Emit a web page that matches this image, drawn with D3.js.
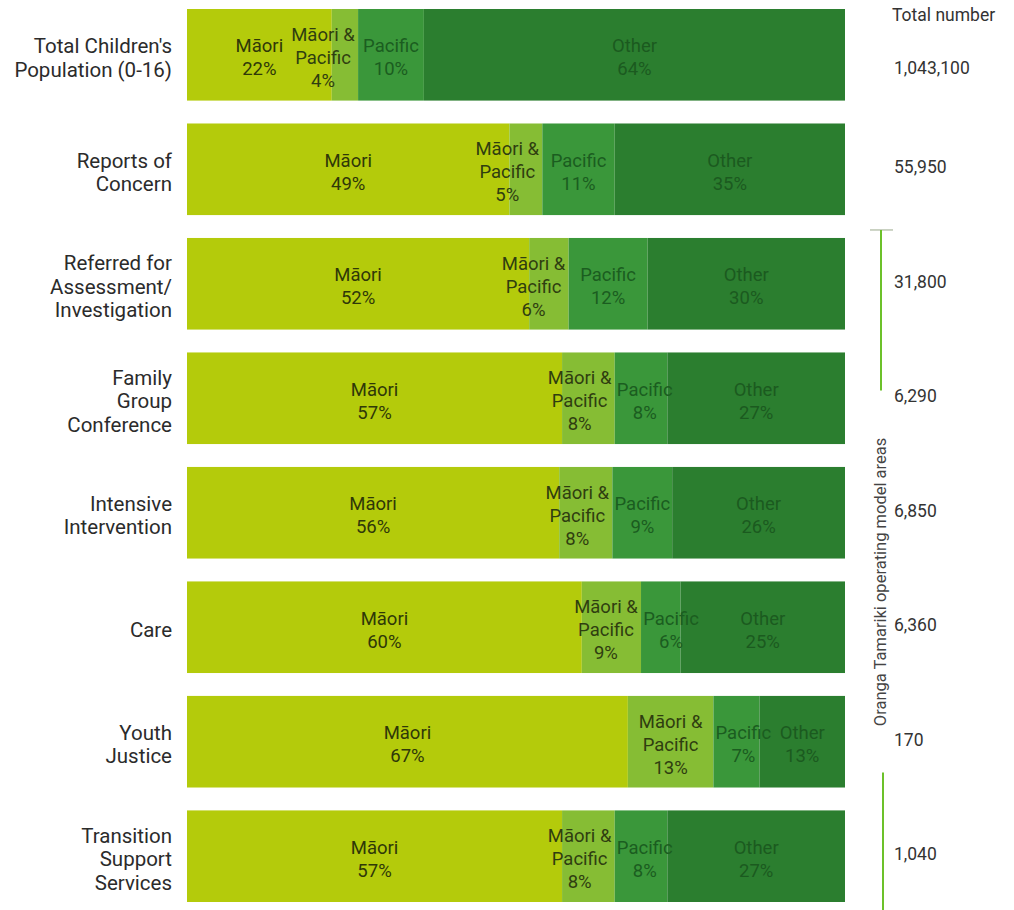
<!DOCTYPE html>
<html>
<head>
<meta charset="utf-8">
<script src="https://cdn.jsdelivr.net/npm/d3@7"></script>
<style>
  body { margin: 0; background: #fff; }
  text { font-family: Roboto, "Noto Sans", sans-serif; }
</style>
</head>
<body>
<div id="chart"></div>
<script>
// rows, top to bottom
var categories = [
  "Total Children's|Population (0-16)",
  "Reports of|Concern",
  "Referred for|Assessment/|Investigation",
  "Family|Group|Conference",
  "Intensive|Intervention",
  "Care",
  "Youth|Justice",
  "Transition|Support|Services"
];

var groups = ["Māori", "Māori & Pacific", "Pacific", "Other"];

var maori        = [22, 49, 52, 57, 56, 60, 67, 57];
var maoriPacific = [4, 5, 6, 8, 8, 9, 13, 8];
var pacific      = [10, 11, 12, 8, 9, 6, 7, 8];
var other        = [64, 35, 30, 27, 26, 25, 13, 27];

var totals = [1043100, 55950, 31800, 6290, 6850, 6360, 170, 1040];

var colors    = ["#b4cb0b", "#86bd34", "#3a973a", "#2b7e2f"];
var textColor = ["#2f3808", "#2f3e10", "#1b5d20", "#1b5a1f"];

var width = 1014, height = 910;

var svg = d3.select("#chart")
  .append("svg")
    .attr("width", width)
    .attr("height", height);

var table = categories.map(function(c, i) {
  return {cat: c, "Māori": maori[i], "Māori & Pacific": maoriPacific[i],
          "Pacific": pacific[i], "Other": other[i], total: totals[i]};
});

// shares are rounded, so each row is expanded to the full width
var x = d3.scaleLinear()
  .domain([0, 1])
  .range([187, 845]);

var y = d3.scaleBand()
  .domain(categories)
  .range([9, 902])
  .paddingInner(0.2);

var series = d3.stack()
  .keys(groups)
  .offset(d3.stackOffsetExpand)(table);

var layer = svg.selectAll("g.layer")
  .data(series)
  .enter()
  .append("g")
    .attr("class", "layer")
    .attr("fill", function(d, i) { return colors[i]; });

layer.selectAll("rect")
  .data(function(d) { return d; })
  .enter()
  .append("rect")
    .attr("x", function(d) { return x(d[0]); })
    .attr("y", function(d) { return y(d.data.cat); })
    .attr("width", function(d) { return x(d[1]) - x(d[0]); })
    .attr("height", y.bandwidth());

// labels inside the segments
// narrow segments: "Māori & Pacific" hugs its right edge, "Pacific" its left edge
var lineH = 23;
series.forEach(function(s, gi) {
  s.forEach(function(d) {
    var name = groups[gi] == "Māori & Pacific" ? ["Māori &", "Pacific"] : [groups[gi]];
    var lines = name.concat([d.data[groups[gi]] + "%"]);
    var x0 = x(d[0]), x1 = x(d[1]);
    var cy = y(d.data.cat) + y.bandwidth() / 2;
    var t = svg.append("text")
      .attr("font-size", 18.5)
      .attr("fill", textColor[gi]);
    lines.forEach(function(l, k) {
      t.append("tspan")
        .attr("x", 0)
        .attr("y", cy + (k - (lines.length - 1) / 2) * lineH + 9)
        .text(l);
    });
    var w = t.node().getBBox().width;
    var anchor = "middle", tx = (x0 + x1) / 2;
    if (w > x1 - x0 - 6) {
      if (gi == 1) { anchor = "end"; tx = x1 - 3; }
      if (gi == 2) { anchor = "start"; tx = x0 + 2; }
    }
    t.attr("text-anchor", anchor);
    t.selectAll("tspan").attr("x", function() {
      // centre the short lines under the widest one
      if (anchor == "middle") return tx;
      var lw = this.getComputedTextLength();
      return anchor == "end" ? tx - (w - lw) / 2 : tx + (w - lw) / 2;
    });
  });
});

// row labels on the left
table.forEach(function(d) {
  var lines = d.cat.split("|");
  var cy = y(d.cat) + y.bandwidth() / 2;
  var t = svg.append("text")
    .attr("text-anchor", "end")
    .attr("font-size", 20.5)
    .attr("fill", "#2b2b2b");
  lines.forEach(function(l, k) {
    t.append("tspan")
      .attr("x", 172)
      .attr("y", cy + (k - (lines.length - 1) / 2) * 23.5 + 10)
      .text(l);
  });
});

// totals column
var fmt = d3.format(",");
svg.append("text")
  .attr("x", 892)
  .attr("y", 21)
  .attr("font-size", 17.5)
  .attr("fill", "#333")
  .text("Total number");

svg.selectAll("text.total")
  .data(table)
  .enter()
  .append("text")
    .attr("class", "total")
    .attr("x", 894)
    .attr("y", function(d, i) {
      return y(d.cat) + y.bandwidth() / 2 + 4 + (i == 0 ? 15 : 0);
    })
    .attr("font-size", 17.5)
    .attr("fill", "#333")
    .text(function(d) { return fmt(d.total); });

// Oranga Tamariki bracket
var brX = 881;
var brTop = y(categories[2]) - 8;
svg.append("line")
  .attr("x1", 870).attr("x2", 893)
  .attr("y1", brTop).attr("y2", brTop)
  .attr("stroke", "#9aa88a")
  .attr("stroke-width", 1);
svg.append("line")
  .attr("x1", brX).attr("x2", brX)
  .attr("y1", brTop).attr("y2", y(categories[3]) + 38)
  .attr("stroke", "#6cc12a")
  .attr("stroke-width", 2);
svg.append("line")
  .attr("x1", brX + 2).attr("x2", brX + 2)
  .attr("y1", y(categories[7]) - 38).attr("y2", height)
  .attr("stroke", "#6cc12a")
  .attr("stroke-width", 2);

svg.append("text")
  .attr("transform", "translate(" + 886 + "," + 582 + ") rotate(-90)")
  .attr("text-anchor", "middle")
  .attr("font-family", "Liberation Sans, Arial, sans-serif")
  .attr("font-size", 16.5)
  .attr("fill", "#444")
  .text("Oranga Tamariki operating model areas");
</script>
</body>
</html>
